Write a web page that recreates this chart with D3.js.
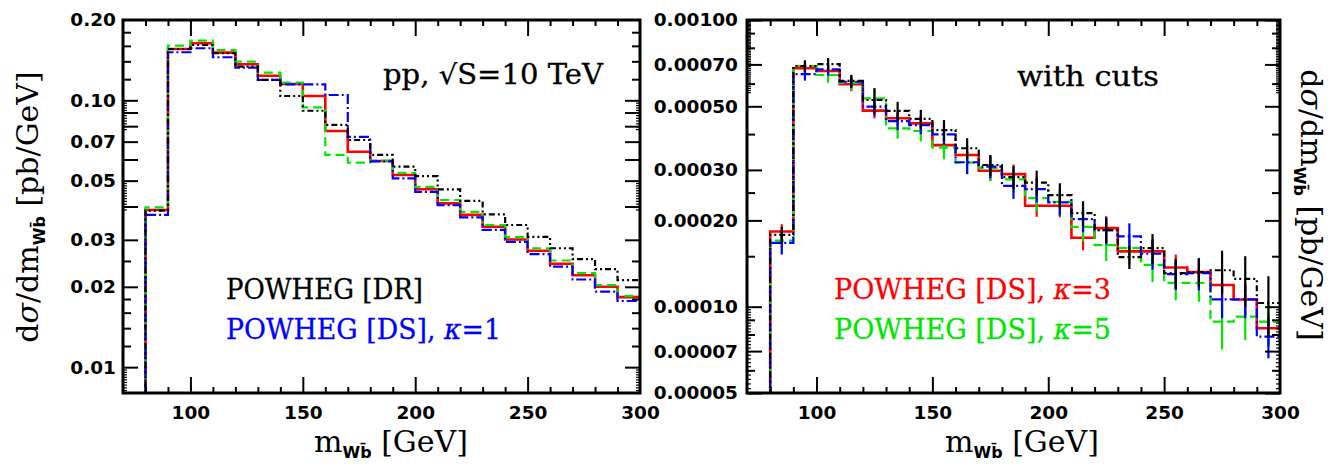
<!DOCTYPE html>
<html><head><meta charset="utf-8">
<script src="https://cdn.jsdelivr.net/npm/d3@7"></script>
<style>body{margin:0;background:#fff} svg{display:block}</style>
</head><body>
<svg id="chart" width="1333" height="465"></svg>
<script>
// ---- data ----
const massRange = [70, 300];
const binEdges = [80,90,100,110,120,130,140,150,160,170,180,190,200,210,220,230,240,250,260,270,280,290,300];

// left panel: pp, sqrt(S)=10 TeV, no cuts  [pb/GeV]
const leftDR  = [0.0386,0.1557,0.1612,0.1501,0.1337,0.1192,0.1038,0.0914,0.0809,0.0710,0.0624,0.0564,0.0520,0.0464,0.0420,0.0374,0.0341,0.0308,0.0279,0.0254,0.0233,0.0212];
const leftDS1 = [0.0372,0.1514,0.1567,0.1450,0.1325,0.1192,0.1148,0.1148,0.1047,0.0730,0.0590,0.0510,0.0454,0.0405,0.0364,0.0327,0.0295,0.0265,0.0238,0.0213,0.0192,0.0177];
const leftDS3 = [0.0388,0.1557,0.1636,0.1509,0.1365,0.1237,0.1151,0.1038,0.0767,0.0642,0.0592,0.0525,0.0464,0.0411,0.0372,0.0336,0.0301,0.0273,0.0244,0.0221,0.0200,0.0183];
const leftDS5 = [0.0397,0.1602,0.1673,0.1544,0.1396,0.1269,0.1164,0.0941,0.0624,0.0584,0.0595,0.0535,0.0474,0.0423,0.0382,0.0341,0.0307,0.0279,0.0251,0.0225,0.0203,0.0185];

// right panel: with cuts [pb/GeV]
const rightDR  = [0.000178,0.000691,0.000702,0.000613,0.000526,0.000482,0.000452,0.000413,0.000357,0.000312,0.000283,0.000271,0.000245,0.000212,0.000185,0.000149,0.000160,0.000131,0.000132,0.000134,0.000125,0.000103];
const rightDS1 = [0.000167,0.000647,0.000673,0.000609,0.000499,0.000444,0.000430,0.000399,0.000319,0.000308,0.000264,0.000257,0.000231,0.000202,0.000185,0.000176,0.000153,0.000130,0.000131,0.000106,0.000106,0.0000786];
const rightDS3 = [0.000183,0.000679,0.000664,0.000597,0.000483,0.000454,0.000436,0.000366,0.000338,0.000298,0.000290,0.000225,0.000225,0.000174,0.000188,0.000156,0.000156,0.000137,0.000132,0.000119,0.000106,0.0000841];
const rightDS5 = [0.000170,0.000691,0.000643,0.000604,0.000533,0.000419,0.000410,0.000359,0.000318,0.000305,0.000278,0.000239,0.000232,0.000190,0.000164,0.000160,0.000140,0.000121,0.000121,0.0000887,0.0000923,0.0000887];

// right panel relative statistical errors
const rightErrDR  = [0.066,0.045,0.05,0.05,0.10,0.075,0.075,0.084,0.084,0.084,0.092,0.10,0.10,0.10,0.10,0.092,0.12,0.12,0.11,0.17,0.20,0.24];
const rightErrDS1 = [0.09,0.05,0.05,0.05,0.07,0.07,0.07,0.08,0.09,0.09,0.10,0.10,0.10,0.10,0.11,0.11,0.12,0.12,0.13,0.14,0.14,0.16];
const rightErrDS3 = [0.06,0.04,0.05,0.055,0.06,0.06,0.065,0.07,0.075,0.08,0.08,0.085,0.09,0.095,0.10,0.10,0.10,0.11,0.11,0.12,0.12,0.13];
const rightErrDS5 = [0.05,0.05,0.06,0.06,0.08,0.08,0.08,0.09,0.09,0.10,0.10,0.10,0.11,0.11,0.12,0.12,0.13,0.13,0.14,0.20,0.17,0.18];

// axis ticks / labels
const xTickLabels = [100,150,200,250,300];
const leftYDomain = [0.008, 0.2];
const leftYTicks = [0.01,0.02,0.03,0.05,0.07,0.1,0.2];
const leftYTickLabels = ["0.01","0.02","0.03","0.05","0.07","0.10","0.20"];
const rightYDomain = [0.00005, 0.001];
const rightYTicks = [0.00005,0.00007,0.0001,0.0002,0.0003,0.0005,0.0007,0.001];
const rightYTickLabels = ["0.00005","0.00007","0.00010","0.00020","0.00030","0.00050","0.00070","0.00100"];

// ---- drawing ----
const svg = d3.select('#chart');
const defs = svg.append('defs');
const TOP = 20, BOTTOM = 393;

const styles = {
  DR:  {color:'#000000', width:2.2, dash:'6,3,2,3,2,3'},
  DS1: {color:'#0000ff', width:2.2, dash:'10,3,2,3'},
  DS3: {color:'#ff0000', width:2.6, dash:null},
  DS5: {color:'#00e600', width:2.2, dash:'9,5'}
};

function drawPanel(p) {
  const x = d3.scaleLinear().domain(massRange).range([p.x0, p.x1]);
  const y = d3.scaleLog().domain(p.yDomain).range([BOTTOM, TOP]);
  const g = svg.append('g');
  const clipId = 'clip' + p.id;
  defs.append('clipPath').attr('id', clipId).append('rect')
    .attr('x', p.x0).attr('y', TOP).attr('width', p.x1 - p.x0).attr('height', BOTTOM - TOP);
  const plot = g.append('g').attr('clip-path', `url(#${clipId})`);
  const line = d3.line().x(d => x(d[0])).y(d => y(d[1])).curve(d3.curveStepAfter);

  p.series.forEach(s => {
    const st = styles[s.key];
    const pts = [[binEdges[0], p.yDomain[0] / 3]];
    s.values.forEach((v, i) => pts.push([binEdges[i], v]));
    pts.push([binEdges[binEdges.length - 1], s.values[s.values.length - 1]]);
    plot.append('path').attr('d', line(pts)).attr('fill', 'none')
      .attr('stroke', st.color).attr('stroke-width', st.width)
      .attr('stroke-dasharray', st.dash);
    if (s.errors) {
      plot.append('g').selectAll('line').data(s.values).join('line')
        .attr('x1', (v, i) => x((binEdges[i] + binEdges[i + 1]) / 2))
        .attr('x2', (v, i) => x((binEdges[i] + binEdges[i + 1]) / 2))
        .attr('y1', (v, i) => y(v * (1 + s.errors[i])))
        .attr('y2', (v, i) => y(v * (1 - s.errors[i])))
        .attr('stroke', st.color).attr('stroke-width', 2.2);
    }
  });

  // ticks (inward, on all four sides)
  const tickGroup = g.append('g');
  function addTicks(axisFn, scale, vals, len, transform, w) {
    const a = tickGroup.append('g').attr('transform', transform)
      .call(axisFn(scale).tickValues(vals).tickSize(-len).tickFormat(''));
    a.select('.domain').remove();
    a.selectAll('line').attr('stroke', '#000').attr('stroke-width', w);
  }
  const xMajor = [100,150,200,250];
  const xMinor = d3.range(80, 300, 10).filter(v => !xMajor.includes(v));
  addTicks(d3.axisBottom, x, xMajor, 16, `translate(0,${BOTTOM})`, 2);
  addTicks(d3.axisBottom, x, xMinor, 6, `translate(0,${BOTTOM})`, 2);
  addTicks(d3.axisTop, x, xMajor, 16, `translate(0,${TOP})`, 2);
  addTicks(d3.axisTop, x, xMinor, 6, `translate(0,${TOP})`, 2);
  [[d3.axisLeft, p.x0], [d3.axisRight, p.x1]].forEach(([fn, xp]) => {
    addTicks(fn, y, p.yLong, 15, `translate(${xp},0)`, 2);
    addTicks(fn, y, p.yMed, 8, `translate(${xp},0)`, 2);
    addTicks(fn, y, p.yTiny, 4, `translate(${xp},0)`, 1.2);
  });

  // frame
  g.append('rect').attr('x', p.x0).attr('y', TOP).attr('width', p.x1 - p.x0).attr('height', BOTTOM - TOP)
    .attr('fill', 'none').attr('stroke', '#000').attr('stroke-width', 3);

  // tick labels
  const xl = g.append('g').attr('transform', `translate(0,${BOTTOM})`)
    .call(d3.axisBottom(x).tickValues(xTickLabels).tickSize(0).tickPadding(13).tickFormat(d3.format('d')));
  xl.select('.domain').remove();
  const yl = g.append('g').attr('transform', `translate(${p.x0},0)`)
    .call(d3.axisLeft(y).tickValues(p.yTicks).tickSize(0).tickPadding(p.labelPad).tickFormat((d, i) => p.yTickLabels[i]));
  yl.select('.domain').remove();
  [xl, yl].forEach(a => a.attr('font-family', '"DejaVu Sans", sans-serif').attr('font-size', 18.5)
    .attr('font-weight', 'bold').selectAll('text').attr('fill', '#000'));
  return {x, y, g};
}

drawPanel({
  id: 'L', x0: 123, x1: 640, yDomain: leftYDomain,
  yTicks: leftYTicks, yTickLabels: leftYTickLabels, labelPad: 7,
  yLong: [0.01,0.02,0.03,0.04,0.05,0.06,0.07,0.08,0.09,0.1],
  yMed: [0.012,0.014,0.016,0.018,0.025,0.12,0.14,0.16,0.18],
  yTiny: d3.range(0.078, 0.0995, 0.002).concat(d3.range(0.039, 0.0495, 0.001), d3.range(0.008, 0.00995, 0.0002)),
  series: [
    {key: 'DS3', values: leftDS3},
    {key: 'DS5', values: leftDS5},
    {key: 'DS1', values: leftDS1},
    {key: 'DR',  values: leftDR}
  ]
});

drawPanel({
  id: 'R', x0: 747, x1: 1280, yDomain: rightYDomain,
  yTicks: rightYTicks, yTickLabels: rightYTickLabels, labelPad: 9,
  yLong: rightYTicks,
  yMed: [0.0009,0.0008,0.0006,0.0004,0.00025,0.00015,0.00009,0.00008,0.00006],
  yTiny: d3.range(0.00056, 0.000995, 0.00001).concat(d3.range(0.00005, 0.0000995, 0.000002)),
  series: [
    {key: 'DS3', values: rightDS3, errors: rightErrDS3},
    {key: 'DS5', values: rightDS5, errors: rightErrDS5},
    {key: 'DS1', values: rightDS1, errors: rightErrDS1},
    {key: 'DR',  values: rightDR,  errors: rightErrDR}
  ]
});

// ---- texts ----
const serif = '"DejaVu Serif", serif';
function label(xp, yp, color, parts, len) {
  const t = svg.append('text').attr('x', xp).attr('y', yp).attr('fill', color)
    .attr('stroke', color).attr('stroke-width', 0.3)
    .attr('font-family', serif).attr('font-size', 27)
    .attr('textLength', len).attr('lengthAdjust', 'spacingAndGlyphs');
  parts.forEach(pt => {
    const ts = t.append('tspan').text(pt.t);
    if (pt.it) ts.attr('font-style', 'italic');
  });
  return t;
}
label(383, 84, '#000', [{t: 'pp,  √S=10  TeV'}], 220);
label(226, 299, '#000', [{t: 'POWHEG  [DR]'}], 197);
label(226, 339, '#0000ff', [{t: 'POWHEG  [DS],  '}, {t: 'κ', it: true}, {t: '=1'}], 275);
label(1017, 86, '#000', [{t: 'with  cuts'}], 142);
label(834, 299, '#ff0000', [{t: 'POWHEG  [DS],  '}, {t: 'κ', it: true}, {t: '=3'}], 277);
label(834, 339, '#00e600', [{t: 'POWHEG  [DS],  '}, {t: 'κ', it: true}, {t: '=5'}], 277);

// axis titles
function xTitle(cx) {
  const t = svg.append('text').attr('x', cx).attr('y', 452).attr('text-anchor', 'middle')
    .attr('font-family', serif).attr('font-size', 30).attr('fill', '#000');
  t.append('tspan').text('m');
  t.append('tspan').attr('dy', 6).attr('font-size', 16).attr('font-family', '"DejaVu Sans", sans-serif')
    .attr('font-weight', 'bold').text('Wb\u0304');
  t.append('tspan').attr('dy', -6).text(' [GeV]');
}
xTitle(391);
xTitle(1022);

function yTitle(tx, ty, rot) {
  const t = svg.append('text').attr('transform', `translate(${tx},${ty}) rotate(${rot})`)
    .attr('text-anchor', 'middle').attr('font-family', serif).attr('font-size', 30).attr('fill', '#000');
  t.append('tspan').text('d');
  t.append('tspan').attr('font-style', 'italic').text('σ');
  t.append('tspan').text('/dm');
  t.append('tspan').attr('dy', 7).attr('font-size', 16).attr('font-family', '"DejaVu Sans", sans-serif')
    .attr('font-weight', 'bold').text('Wb\u0304');
  t.append('tspan').attr('dy', -7).text(' [pb/GeV]');
}
yTitle(38, 207, -90);
yTitle(1301, 205, 90);
</script>
</body></html>
